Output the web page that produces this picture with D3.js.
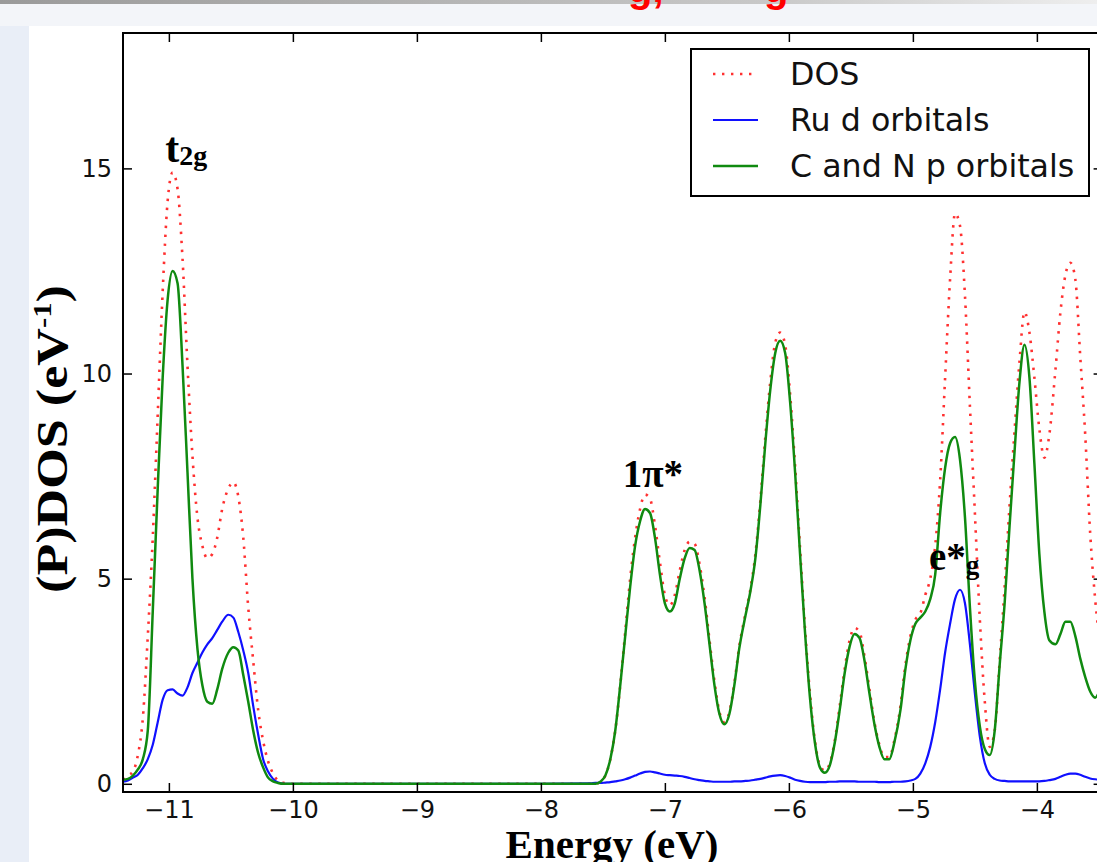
<!DOCTYPE html>
<html>
<head>
<meta charset="utf-8">
<script src="https://cdn.jsdelivr.net/npm/d3@7"></script>
<style>
  html, body { margin: 0; padding: 0; background: #fff; overflow: hidden; }
</style>
</head>
<body>
<div id="chart"></div>
<script>
// energy grid (eV) shared by the three curves
var energy = [
  -11.37, -11.33, -11.29, -11.25, -11.21, -11.17, -11.13, -11.09, -11.05, -11.01,
  -10.97, -10.93, -10.89, -10.85, -10.81, -10.77, -10.73, -10.69, -10.65, -10.61,
  -10.57, -10.52, -10.48, -10.44, -10.40, -10.36, -10.32, -10.28, -10.24, -10.20,
  -10.16, -10.12, -10.07, -10.00,
  -9.0, -8.0, -7.6,
  -7.56, -7.52, -7.48, -7.44, -7.40, -7.36, -7.32, -7.28, -7.24, -7.20,
  -7.16, -7.12, -7.08, -7.04, -7.00, -6.96, -6.92, -6.88, -6.84, -6.80,
  -6.76, -6.72, -6.68, -6.64, -6.60, -6.56, -6.52, -6.48, -6.44, -6.40,
  -6.35, -6.31, -6.27, -6.23, -6.19, -6.15, -6.11, -6.07, -6.03, -5.99,
  -5.95, -5.91, -5.87, -5.83, -5.79, -5.75, -5.71, -5.67, -5.63, -5.59,
  -5.55, -5.51, -5.47, -5.43, -5.39, -5.35, -5.31, -5.27, -5.23, -5.19,
  -5.15, -5.10, -5.06, -5.02, -4.98, -4.94, -4.90, -4.86, -4.82, -4.78,
  -4.74, -4.70, -4.66, -4.62, -4.58, -4.54, -4.50, -4.46, -4.42, -4.38,
  -4.34, -4.30, -4.26, -4.22, -4.18, -4.14, -4.10, -4.06, -4.02, -3.98,
  -3.94, -3.90, -3.85, -3.81, -3.77, -3.73, -3.69, -3.65, -3.61, -3.57,
  -3.53, -3.49, -3.45
];

// total DOS
var dos = [
  0.1, 0.2, 0.3, 0.7, 1.6, 3.6, 6.0, 9.0, 12.0, 14.2,
  14.9, 14.5, 12.8, 10.2, 8.0, 6.5, 5.8, 5.5, 5.6, 6.0,
  6.7, 7.2, 7.35, 7.0, 6.0, 4.3, 3.0, 1.8, 1.05, 0.55,
  0.25, 0.08, 0.02, 0.0,
  0, 0, 0,
  0, 0.05, 0.2, 0.6, 1.3, 2.4, 3.7, 5.0, 6.0, 6.7,
  7.05, 6.95, 6.3, 5.4, 4.6, 4.35, 4.6, 5.2, 5.7, 5.9,
  5.85, 5.35, 4.55, 3.5, 2.5, 1.75, 1.5, 1.75, 2.45, 3.35,
  4.15, 4.75, 5.6, 6.9, 8.45, 9.8, 10.75, 11.0, 10.7, 9.5,
  7.75, 5.75, 3.8, 2.2, 1.05, 0.45, 0.32, 0.5, 1.05, 1.9,
  2.8, 3.5, 3.8, 3.7, 3.1, 2.3, 1.5, 0.95, 0.65, 0.65,
  1.05, 1.9, 2.9, 3.6, 4.0, 4.15, 4.6, 5.0, 5.8, 7.4,
  9.9, 12.3, 13.9, 13.6, 11.9, 9.2, 6.6, 4.0, 2.0, 0.9,
  1.3, 3.0, 4.8, 6.8, 8.6, 10.3, 11.5, 11.0, 9.9, 8.65,
  7.95, 8.5, 10.1, 11.5, 12.4, 12.7, 12.3, 10.4, 8.5, 6.1,
  4.5, 3.4, 2.6
];

// Ru d orbitals
var ruD = [
  0.05, 0.08, 0.15, 0.22, 0.38, 0.6, 0.95, 1.5, 2.05, 2.28,
  2.3, 2.2, 2.15, 2.35, 2.7, 2.95, 3.2, 3.4, 3.55, 3.75,
  3.95, 4.12, 4.05, 3.7, 3.25, 2.7, 1.9, 1.2, 0.6, 0.3,
  0.12, 0.03, 0.0, 0.0,
  0, 0, 0.01,
  0.02, 0.02, 0.03, 0.04, 0.06, 0.08, 0.11, 0.15, 0.2, 0.25,
  0.29, 0.3, 0.28, 0.25, 0.22, 0.21, 0.2, 0.19, 0.17, 0.14,
  0.11, 0.09, 0.07, 0.06, 0.05, 0.05, 0.05, 0.05, 0.06, 0.06,
  0.07, 0.08, 0.1, 0.12, 0.15, 0.18, 0.2, 0.21, 0.19, 0.15,
  0.1, 0.07, 0.05, 0.04, 0.04, 0.04, 0.04, 0.05, 0.05, 0.06,
  0.06, 0.06, 0.06, 0.05, 0.05, 0.05, 0.05, 0.04, 0.04, 0.04,
  0.05, 0.05, 0.06, 0.08, 0.12, 0.25, 0.5, 0.9, 1.5, 2.3,
  3.2, 3.9, 4.5, 4.73, 4.4, 3.4, 2.2, 1.15, 0.5, 0.22,
  0.12, 0.08, 0.07, 0.06, 0.06, 0.06, 0.06, 0.06, 0.06, 0.06,
  0.07, 0.09, 0.12, 0.17, 0.22, 0.25, 0.25, 0.22, 0.17, 0.13,
  0.11, 0.1, 0.1
];

// C and N p orbitals
var cnP = [
  0.1, 0.12, 0.2, 0.35, 0.6, 1.3, 4.2, 7.2, 9.9, 11.8,
  12.5, 12.2, 10.2, 7.6, 5.0, 3.3, 2.4, 2.0, 1.95, 2.3,
  2.8, 3.2, 3.33, 3.25, 2.65, 2.0, 1.3, 0.75, 0.4, 0.15,
  0.06, 0.02, 0.0, 0.0,
  0, 0, 0,
  0, 0.05, 0.2, 0.6, 1.3, 2.4, 3.6, 4.8, 5.8, 6.4,
  6.7, 6.6, 6.0, 5.1, 4.4, 4.2, 4.4, 5.0, 5.5, 5.75,
  5.7, 5.2, 4.4, 3.4, 2.4, 1.7, 1.45, 1.7, 2.4, 3.3,
  4.1, 4.7, 5.5, 6.8, 8.3, 9.6, 10.5, 10.8, 10.5, 9.3,
  7.6, 5.6, 3.7, 2.1, 1.0, 0.4, 0.27, 0.45, 1.0, 1.8,
  2.7, 3.35, 3.65, 3.55, 3.0, 2.2, 1.45, 0.9, 0.6, 0.6,
  1.0, 1.8, 2.8, 3.5, 3.9, 4.05, 4.2, 4.5, 5.1, 6.6,
  7.7, 8.3, 8.45, 7.9, 6.5, 4.3, 2.5, 1.4, 0.85, 0.7,
  1.3, 2.9, 4.4, 6.3, 8.1, 9.8, 10.7, 9.9, 7.8, 5.6,
  4.2, 3.5, 3.4, 3.65, 3.95, 3.95, 3.6, 3.05, 2.6, 2.25,
  2.1, 2.3, 2.7
];

var xTicks = [-11, -10, -9, -8, -7, -6, -5, -4];
var yTicks = [0, 5, 10, 15];
var seriesNames = ["DOS", "Ru d orbitals", "C and N p orbitals"];

// page and plot geometry
var W = 1097, H = 862;
var margin = {top: 33, left: 123};
var width = 7.9 * 124,
    height = 759;

var svg = d3.select("#chart")
  .append("svg")
    .attr("width", W)
    .attr("height", H);

// slide background behind the figure
var defs = svg.append("defs");
var grad = defs.append("linearGradient").attr("id", "topbar");
grad.append("stop").attr("offset", "0%").attr("stop-color", "#9a9a9a");
grad.append("stop").attr("offset", "70%").attr("stop-color", "#c8c8c8");
grad.append("stop").attr("offset", "100%").attr("stop-color", "#eeeeee");

svg.append("rect").attr("width", W).attr("height", H).attr("fill", "#e9eef7");
svg.append("rect").attr("width", W).attr("height", 26).attr("fill", "#f3f5f9");
svg.append("rect").attr("width", W).attr("height", 4).attr("fill", "url(#topbar)");
svg.append("rect").attr("x", 29).attr("y", 26).attr("width", W).attr("height", H).attr("fill", "#fff");

// bottom of the slide title, cut off at the top
svg.append("text").attr("x", 628).attr("y", 2).text("g,")
  .attr("font-family", "Liberation Sans").attr("font-weight", "bold")
  .attr("font-size", 40).attr("fill", "#ff0000");
svg.append("text").attr("x", 764).attr("y", 2).text("g")
  .attr("font-family", "Liberation Sans").attr("font-weight", "bold")
  .attr("font-size", 40).attr("fill", "#ff0000");

var g = svg.append("g")
  .attr("transform", "translate(" + margin.left + "," + margin.top + ")");

var x = d3.scaleLinear().domain([-11.37, -3.47]).range([0, width]);
var y = d3.scaleLinear().domain([-0.2, 18.3]).range([height, 0]);

defs.append("clipPath").attr("id", "plotclip")
  .append("rect").attr("width", width).attr("height", height);

var line = d3.line()
  .x(function(d, i) { return x(energy[i]); })
  .y(function(d) { return y(d); })
  .curve(d3.curveMonotoneX);

var curves = g.append("g").attr("clip-path", "url(#plotclip)");

curves.append("path").datum(dos)
  .attr("d", line).attr("fill", "none")
  .attr("stroke", "#ff3030").attr("stroke-width", 2.6)
  .attr("stroke-dasharray", "2.4,6.6");

curves.append("path").datum(ruD)
  .attr("d", line).attr("fill", "none")
  .attr("stroke", "#1010ff").attr("stroke-width", 2.2);

curves.append("path").datum(cnP)
  .attr("d", line).attr("fill", "none")
  .attr("stroke", "#108a10").attr("stroke-width", 2.5);

// axes (ticks pointing inwards, on all four sides)
function styleAxis(sel) {
  sel.select(".domain").remove();
  sel.selectAll(".tick line").attr("stroke", "#000").attr("stroke-width", 1.5);
  sel.attr("font-family", "DejaVu Sans").attr("font-size", 24);
  sel.selectAll(".tick text").attr("fill", "#111");
}

g.append("g")
  .attr("transform", "translate(0," + height + ")")
  .call(d3.axisBottom(x).tickValues(xTicks).tickSize(-9).tickPadding(9).tickFormat(d3.format("d")))
  .call(styleAxis);

g.append("g")
  .call(d3.axisTop(x).tickValues(xTicks).tickSize(-9).tickFormat(""))
  .call(styleAxis);

g.append("g")
  .call(d3.axisLeft(y).tickValues(yTicks).tickSize(-9).tickPadding(11))
  .call(styleAxis);

g.append("g")
  .attr("transform", "translate(" + width + ",0)")
  .call(d3.axisRight(y).tickValues(yTicks).tickSize(-9).tickFormat(""))
  .call(styleAxis);

g.append("rect")
  .attr("width", width).attr("height", height)
  .attr("fill", "none").attr("stroke", "#000").attr("stroke-width", 2);

// peak annotations
var serif = "Liberation Serif";
var t2g = g.append("text").attr("x", x(-11.03)).attr("y", y(15.0) - 6)
  .attr("font-family", serif).attr("font-weight", "bold").attr("fill", "#000");
t2g.append("tspan").attr("font-size", 42).text("t");
t2g.append("tspan").attr("font-size", 28).attr("dy", 3).text("2g");

g.append("text").attr("x", x(-7.34)).attr("y", y(7.05) - 8)
  .attr("font-family", serif).attr("font-weight", "bold").attr("font-size", 39)
  .attr("fill", "#000").text("1\u03c0*");

var eg = g.append("text").attr("x", x(-4.87)).attr("y", y(5.2))
  .attr("font-family", serif).attr("font-weight", "bold").attr("fill", "#000");
eg.append("tspan").attr("font-size", 39).text("e*");
eg.append("tspan").attr("font-size", 27).attr("dy", 4).text("g");

// legend
var legend = svg.append("g").attr("transform", "translate(691,49)");
legend.append("rect")
  .attr("width", 398).attr("height", 147)
  .attr("fill", "#fff").attr("stroke", "#000").attr("stroke-width", 2);

var legendStyle = [
  {stroke: "#ff3030", dash: "2.4,6.6", w: 2.6},
  {stroke: "#1010ff", dash: null, w: 2.2},
  {stroke: "#108a10", dash: null, w: 2.5}
];

seriesNames.forEach(function(name, i) {
  var ly = 25 + i * 46;
  legend.append("line")
    .attr("x1", 22).attr("x2", 67).attr("y1", ly).attr("y2", ly)
    .attr("stroke", legendStyle[i].stroke)
    .attr("stroke-width", legendStyle[i].w)
    .attr("stroke-dasharray", legendStyle[i].dash);
  legend.append("text")
    .attr("x", 99).attr("y", ly + 11)
    .attr("font-family", "DejaVu Sans").attr("font-size", 31.7)
    .attr("fill", "#111")
    .text(name);
});

// axis titles
svg.append("text")
  .attr("x", 612).attr("y", 858)
  .attr("text-anchor", "middle")
  .attr("font-family", serif).attr("font-weight", "bold").attr("font-size", 41)
  .attr("fill", "#000")
  .text("Energy (eV)");

var ylab = svg.append("text")
  .attr("transform", "translate(67,439) rotate(-90)")
  .attr("text-anchor", "middle")
  .attr("font-family", serif).attr("font-weight", "bold").attr("font-size", 44)
  .attr("fill", "#000")
  .attr("textLength", 308).attr("lengthAdjust", "spacingAndGlyphs");
ylab.append("tspan").text("(P)DOS (eV");
ylab.append("tspan").attr("font-size", 26).attr("dy", -16).text("-1");
ylab.append("tspan").attr("font-size", 44).attr("dy", 16).text(")");
</script>
</body>
</html>
